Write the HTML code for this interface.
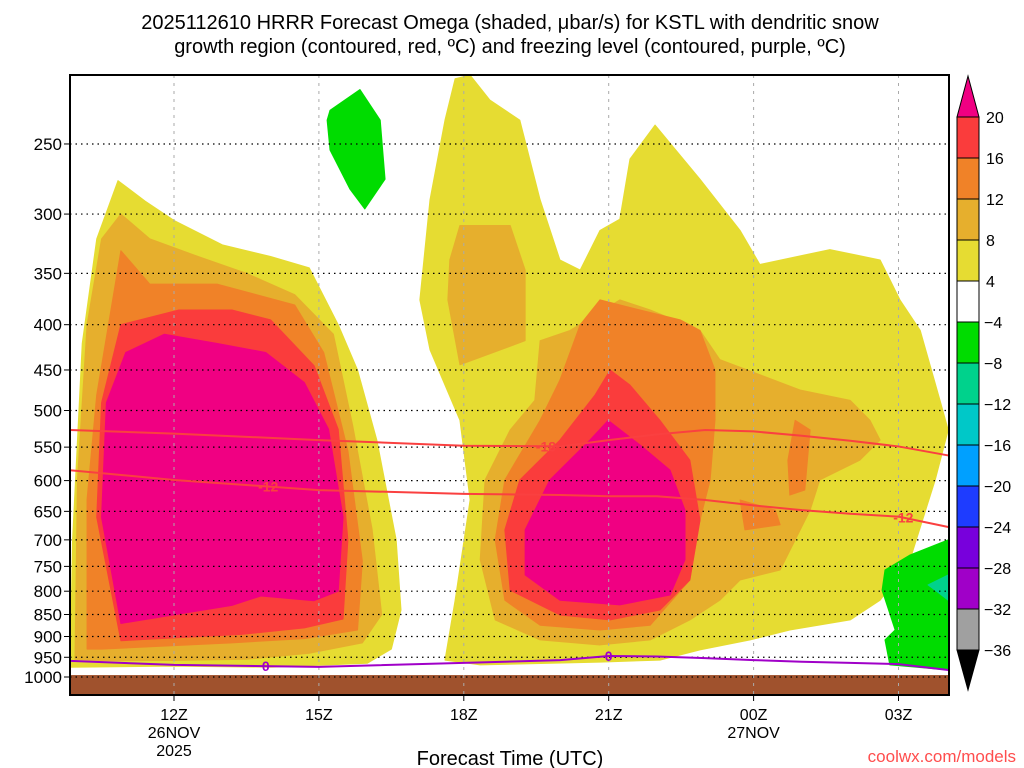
<!DOCTYPE html>
<html><head><meta charset="utf-8"><style>
html,body{margin:0;padding:0;background:#fff;overflow:hidden;}
svg{display:block;font-family:"Liberation Sans",sans-serif;}
</style></head><body>
<svg id="chart" width="1024" height="768" viewBox="0 0 1024 768" xmlns="http://www.w3.org/2000/svg">
<defs><clipPath id="plotclip"><rect x="70" y="75" width="879" height="620"/></clipPath></defs>
<text x="510" y="29" font-size="20" text-anchor="middle">2025112610 HRRR Forecast Omega (shaded, μbar/s) for KSTL with dendritic snow</text>
<text x="510" y="53" font-size="20" text-anchor="middle">growth region (contoured, red, ºC) and freezing level (contoured, purple, ºC)</text>
<g id="shades" clip-path="url(#plotclip)"></g>
<g id="grid"></g>
<g id="lines" clip-path="url(#plotclip)"></g>
<rect x="70" y="75" width="879" height="620" fill="none" stroke="#000" stroke-width="2"/>
<g id="axes"></g>
<g id="cbar"></g>
<text x="510" y="765" font-size="20" text-anchor="middle">Forecast Time (UTC)</text>
<text x="1016" y="762" font-size="17" text-anchor="end" fill="#ff4d4d">coolwx.com/models</text>
</svg>
<script>
const pTicks=[250,300,350,400,450,500,550,600,650,700,750,800,850,900,950,1000];
const tHours=[12,15,18,21,24,27];
const tLabels=[["12Z","26NOV","2025"],["15Z"],["18Z"],["21Z"],["00Z","27NOV"],["03Z"]];
const cbLabels=["20","16","12","8","4","−4","−8","−12","−16","−20","−24","−28","−32","−36"];
const cbColors=["#fa3c3c","#f08228","#e6af2d","#e6dc32","#ffffff","#00dc00","#00d28c","#00c8c8","#00a0ff","#1e3cff","#7800dc","#a000c8","#a0a0a0"];
const yellowL=[[9.85,975],[9.9,700],[10.1,420],[10.4,320],[10.84,275],[11.4,290],[12.0,305],[13.0,325],[14.0,335],[14.8,345],[15.4,400],[15.8,450],[16.2,540],[16.6,700],[16.7,840],[16.5,930],[16.0,965],[14,975],[12,972]];
const lorangeL=[[9.95,955],[10.0,600],[10.2,400],[10.5,320],[10.9,300],[11.5,320],[12.5,335],[13.5,350],[14.5,370],[15.3,410],[15.7,520],[16.1,680],[16.3,850],[15.9,915],[14.8,940],[13.5,955],[12,958],[10.5,958]];
const orangeL=[[10.2,930],[10.2,630],[10.4,480],[10.9,330],[11.5,360],[12.9,360],[14.5,380],[15.1,430],[15.6,555],[15.9,740],[15.8,885],[14.7,905],[13.2,915],[10.5,930]];
const redL=[[10.5,490],[10.9,400],[12.1,385],[13.2,385],[14.0,395],[14.9,445],[15.4,525],[15.6,700],[15.5,860],[14.7,880],[13.4,895],[10.9,910],[10.4,660]];
const magL=[[10.6,490],[11.0,430],[11.8,410],[12.9,420],[13.9,430],[14.7,465],[15.2,525],[15.5,660],[15.4,800],[14.9,820],[13.8,810],[13.2,830],[10.9,870],[10.5,660]];
const yellowR=[[18.13,209],[18.54,223],[19.16,235],[19.58,289],[19.99,338],[20.41,347],[20.82,313],[21.23,304],[21.44,260],[21.96,238],[22.89,274],[23.72,313],[24.13,342],[25.58,329],[26.62,338],[27.03,375],[27.45,406],[27.86,487],[28.03,526],[27.76,599],[27.24,737],[26.62,819],[26.0,862],[24.75,885],[23.93,908],[22.89,932],[22.06,957],[20.82,962],[18.34,969],[17.61,957],[17.82,819],[18.13,631],[17.92,513],[17.3,427],[17.09,375],[17.3,289],[17.61,235],[17.82,211]];
const lorangeT=[[17.92,309],[18.96,309],[19.27,347],[19.27,417],[17.92,444],[17.67,375],[17.71,338]];
const lorangeR=[[19.58,417],[20.2,406],[21.23,375],[21.86,385],[22.89,406],[23.3,438],[24.96,474],[26.0,487],[26.41,513],[26.62,540],[26.2,569],[25.37,599],[25.17,648],[24.55,757],[23.72,777],[23.3,819],[22.68,862],[21.86,908],[20.82,920],[19.58,908],[18.65,862],[18.34,737],[18.44,599],[18.96,526],[19.47,487]];
const orangeR=[[20.41,400],[20.82,375],[21.65,385],[22.48,395],[22.89,406],[23.2,450],[23.2,513],[23.1,599],[22.89,665],[22.68,777],[21.86,874],[20.82,885],[19.58,874],[18.85,819],[18.65,700],[18.85,599],[19.58,513],[19.99,462]];
const orangeP1=[[24.86,513],[25.17,526],[25.06,615],[24.75,623],[24.71,569]];
const orangeP2=[[23.72,631],[24.45,648],[24.55,673],[23.82,682]];
const redR=[[21.03,450],[21.44,468],[22.06,513],[22.68,569],[22.89,665],[22.68,777],[22.06,840],[21.03,862],[19.99,851],[18.96,798],[18.85,682],[19.16,599],[19.99,540],[20.72,480]];
const magR=[[20.99,513],[21.65,547],[22.27,584],[22.58,648],[22.58,737],[22.27,808],[21.23,829],[19.99,819],[19.27,767],[19.27,682],[19.78,599],[20.61,540]];
const greenTop=[[15.23,229],[15.85,217],[16.27,235],[16.37,274],[15.95,296],[15.64,281],[15.23,254],[15.17,235]];
const greenBR=[[26.72,757],[27.24,728],[28.03,700],[28.03,982],[26.82,969],[26.72,908],[26.93,885],[26.66,798]];
const tealBR=[[27.61,787],[28.03,767],[28.03,819],[27.76,798]];
const lineHours=[9.85,12,15,18,20,21,22,23,24,25,26,27,28.03];
const iso18=[526,531,540,548,549,540,532,526,528,534,541,549,562];
const iso12=[584,599,615,621,623,625,625,631,640,648,654,659,677];
const freez=[959,969,974,964,957,947,948,952,957,961,964,967,982];
const groundP=995;

const NS="http://www.w3.org/2000/svg";
const X0=70,X1=949,Y0=75,Y1=695;
function x(h){return 174+(h-12)*48.3;}
function y(p){return 677+384.5*Math.log(p/1000);}
function el(tag,attrs,parent){const e=document.createElementNS(NS,tag);for(const k in attrs)e.setAttribute(k,attrs[k]);parent.appendChild(e);return e;}
function pts(a){return a.map(d=>x(Math.min(28.03,Math.max(9.85,d[0])))+","+y(d[1])).join(" ");}
const S=document.getElementById("shades");
const shapes=[[yellowL,"#e6dc32","shade-left-4-8"],[lorangeL,"#e6af2d","shade-left-8-12"],[orangeL,"#f08228","shade-left-12-16"],[redL,"#fa3c3c","shade-left-16-20"],[magL,"#f00082","shade-left-20plus"],
[yellowR,"#e6dc32","shade-right-4-8"],[lorangeT,"#e6af2d","shade-tower-8-12"],[lorangeR,"#e6af2d","shade-right-8-12"],[orangeR,"#f08228","shade-right-12-16"],[orangeP1,"#f08228","shade-patch1-12-16"],[orangeP2,"#f08228","shade-patch2-12-16"],[redR,"#fa3c3c","shade-right-16-20"],[magR,"#f00082","shade-right-20plus"],
[greenTop,"#00dc00","shade-green-top"],[greenBR,"#00dc00","shade-green-lowright"],[tealBR,"#00d28c","shade-teal-lowright"]];
shapes.forEach(s=>{const e=el("polygon",{points:pts(s[0]),fill:s[1],"stroke":s[1],"stroke-width":1,"stroke-linejoin":"round"},S);

});
const g=el("rect",{x:X0,y:y(groundP),width:X1-X0,height:Y1-y(groundP),fill:"#a0522d"},S);


const G=document.getElementById("grid");
pTicks.forEach(p=>{const l=el("line",{x1:X0,x2:X1,y1:y(p),y2:y(p),stroke:"#000","stroke-width":1.2,"stroke-dasharray":"1.5,4"},G);

});
tHours.forEach(h=>{const l=el("line",{x1:x(h),x2:x(h),y1:Y0,y2:Y1,stroke:"#aaa","stroke-width":1,"stroke-dasharray":"3,5"},G);

});
const L=document.getElementById("lines");
function drawLine(vals,col,name,labels){
  const e=el("polyline",{points:lineHours.map((h,i)=>x(h)+","+y(vals[i])).join(" "),fill:"none",stroke:col,"stroke-width":2},L);
  
  
  labels.forEach(lb=>{
    let i=0;while(i<lineHours.length-2&&lineHours[i+1]<lb[0])i++;
    const f=(lb[0]-lineHours[i])/(lineHours[i+1]-lineHours[i]);
    const yy=y(vals[i]+(vals[i+1]-vals[i])*f);
    const t=el("text",{x:x(lb[0]),y:yy+5,"font-size":14,"font-weight":"bold","text-anchor":"middle",fill:col},L);
    t.textContent=lb[1];
    
    
  });
}
drawLine(iso18,"#fa4040","isotherm-minus18",[[19.7,"-18"]]);
drawLine(iso12,"#fa4040","isotherm-minus12",[[13.95,"-12"],[27.1,"-12"]]);
drawLine(freez,"#a000c8","freezing-level",[[13.9,"0"],[21,"0"]]);
const A=document.getElementById("axes");
pTicks.forEach(p=>{const t=el("text",{x:62,y:y(p)+6,"font-size":17,"text-anchor":"end"},A);t.textContent=p;


const tk=el("line",{x1:64,x2:70,y1:y(p),y2:y(p),stroke:"#000"},A);

});
tHours.forEach((h,i)=>{tLabels[i].forEach((s,j)=>{const t=el("text",{x:x(h),y:720+j*18,"font-size":16,"text-anchor":"middle"},A);t.textContent=s;

});
const tk=el("line",{x1:x(h),x2:x(h),y1:695,y2:701,stroke:"#000"},A);

});
const C=document.getElementById("cbar");
const cx0=957,cx1=979,ctop=117,step=41.0;
const tri=el("polygon",{points:`${cx0},${ctop} ${cx1},${ctop} ${(cx0+cx1)/2},76`,fill:"#f00082",stroke:"#000"},C);


cbColors.forEach((c,i)=>{const r=el("rect",{x:cx0,y:ctop+i*step,width:cx1-cx0,height:step,fill:c,stroke:"#000"},C);

});
const bot=ctop+cbColors.length*step;
const tri2=el("polygon",{points:`${cx0},${bot} ${cx1},${bot} ${(cx0+cx1)/2},690`,fill:"#000",stroke:"#000"},C);


cbLabels.forEach((s,i)=>{const t=el("text",{x:s.startsWith("−")?984:986,y:ctop+i*step+6,"font-size":16},C);t.textContent=s;

});
</script>
</body></html>
